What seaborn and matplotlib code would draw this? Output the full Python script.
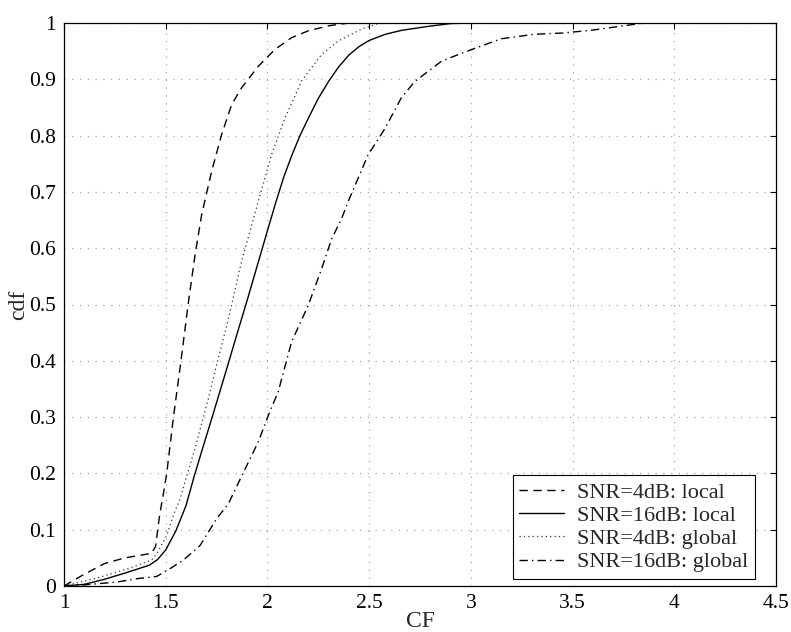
import matplotlib
matplotlib.use("Agg")
import matplotlib.pyplot as plt
import seaborn as sns
import pandas as pd

# CDF of the crest factor (CF) for local / global processing at two SNRs
cf_4db_local = [1.0, 1.1, 1.2, 1.3, 1.43, 1.45, 1.47, 1.49, 1.505, 1.538, 1.575, 1.612,
                1.645, 1.677, 1.726, 1.775, 1.824, 1.873, 1.955, 2.037, 2.119, 2.2,
                2.3, 2.4, 2.5]
cdf_4db_local = [0.0, 0.021, 0.04, 0.05, 0.058, 0.07, 0.126, 0.167, 0.2, 0.3, 0.4, 0.505,
                 0.59, 0.66, 0.737, 0.802, 0.855, 0.885, 0.923, 0.953, 0.974, 0.986,
                 0.995, 1.0, 1.0]

cf_16db_local = [1.0, 1.1, 1.2, 1.3, 1.42, 1.46, 1.5, 1.55, 1.6, 1.64, 1.68, 1.72, 1.76,
                 1.8, 1.85, 1.9, 1.95, 2.0, 2.04, 2.08, 2.12, 2.16, 2.2, 2.25, 2.3,
                 2.35, 2.4, 2.45, 2.5, 2.58, 2.66, 2.79, 2.9, 3.0]
cdf_16db_local = [0.0, 0.003, 0.012, 0.023, 0.037, 0.047, 0.064, 0.098, 0.143, 0.195, 0.243,
                  0.29, 0.338, 0.386, 0.447, 0.507, 0.569, 0.631, 0.68, 0.726, 0.765, 0.8,
                  0.83, 0.866, 0.896, 0.922, 0.943, 0.958, 0.969, 0.98, 0.987, 0.994,
                  0.999, 1.0]

cf_4db_global = [1.0, 1.18, 1.317, 1.43, 1.456, 1.505, 1.538, 1.571, 1.595, 1.644, 1.685,
                 1.71, 1.742, 1.808, 1.873, 1.945, 2.02, 2.086, 2.168, 2.266, 2.348,
                 2.462, 2.55, 2.6]
cdf_4db_global = [0.0, 0.016, 0.031, 0.046, 0.057, 0.09, 0.126, 0.155, 0.185, 0.244, 0.3,
                  0.333, 0.381, 0.474, 0.577, 0.67, 0.766, 0.831, 0.897, 0.944, 0.968,
                  0.989, 1.0, 1.0]

cf_16db_global = [1.0, 1.1, 1.26, 1.358, 1.456, 1.522, 1.587, 1.669, 1.751, 1.808, 1.873,
                  1.955, 2.012, 2.053, 2.119, 2.2, 2.266, 2.315, 2.364, 2.397, 2.495,
                  2.577, 2.658, 2.724, 2.855, 2.953, 3.035, 3.149, 3.313, 3.443, 3.59,
                  3.75, 3.85]
cdf_16db_global = [0.0, 0.002, 0.007, 0.013, 0.017, 0.031, 0.046, 0.072, 0.12, 0.146,
                   0.195, 0.256, 0.31, 0.345, 0.434, 0.498, 0.563, 0.616, 0.652, 0.683,
                   0.766, 0.812, 0.867, 0.896, 0.932, 0.946, 0.957, 0.972, 0.98, 0.982,
                   0.987, 0.995, 1.0]

series_labels = ["SNR=4dB: local", "SNR=16dB: local", "SNR=4dB: global", "SNR=16dB: global"]
x_ticks = [1, 1.5, 2, 2.5, 3, 3.5, 4, 4.5]
x_tick_labels = ["1", "1.5", "2", "2.5", "3", "3.5", "4", "4.5"]
y_ticks = [0, 0.1, 0.2, 0.3, 0.4, 0.5, 0.6, 0.7, 0.8, 0.9, 1.0]
y_tick_labels = ["0", "0.1", "0.2", "0.3", "0.4", "0.5", "0.6", "0.7", "0.8", "0.9", "1"]

sns.set_style("white")
plt.rcParams["font.family"] = ["Liberation Serif", "DejaVu Serif"]

fig = plt.figure(figsize=(7.91, 6.32), dpi=100)
ax = fig.add_axes([64 / 791, 1 - 586 / 632, 712 / 791, 563 / 632])

frames = []
for lab, xs, ys in zip(series_labels,
                       [cf_4db_local, cf_16db_local, cf_4db_global, cf_16db_global],
                       [cdf_4db_local, cdf_16db_local, cdf_4db_global, cdf_16db_global]):
    frames.append(pd.DataFrame({"CF": xs, "cdf": ys, "series": lab}))
df = pd.concat(frames, ignore_index=True)

styles = {
    "SNR=4dB: local": dict(ls=(0, (6, 4)), lw=1.0, color="black"),
    "SNR=16dB: local": dict(ls="-", lw=1.0, color="black"),
    "SNR=4dB: global": dict(ls=(0, (1, 2.5)), lw=0.9, color="#333333"),
    "SNR=16dB: global": dict(ls=(0, (6, 3, 1, 3)), lw=1.0, color="black"),
}

for lab in series_labels:
    st = styles[lab]
    sns.lineplot(data=df[df["series"] == lab], x="CF", y="cdf", ax=ax,
                 estimator=None, sort=False, color=st["color"],
                 linewidth=st["lw"], linestyle=st["ls"], label=lab)

ax.set_xlim(1, 4.5)
ax.set_ylim(0, 1)
ax.set_xticks(x_ticks)
ax.set_xticklabels(x_tick_labels)
ax.set_yticks(y_ticks)
ax.set_yticklabels(y_tick_labels)
ax.grid(True, color="0.6", linestyle=(0, (1, 6)), linewidth=0.8)
ax.tick_params(direction="in", length=4, width=0.8, top=True, right=True,
               labelsize=15.5, pad=6, colors="black")
for sp in ax.spines.values():
    sp.set_visible(True)
    sp.set_color("black")
    sp.set_linewidth(0.9)

ax.set_xlabel("CF", fontsize=17, labelpad=-2)
ax.set_ylabel("cdf", fontsize=17, labelpad=0)

leg = ax.legend(loc="lower right", bbox_to_anchor=((755 - 64) / 712, (586 - 579) / 563),
                borderaxespad=0, fontsize=16, frameon=True, fancybox=False,
                framealpha=1, edgecolor="black", handlelength=2.0,
                handletextpad=0.6, labelspacing=0.12, borderpad=0.3)
leg.get_frame().set_linewidth(0.8)

fig.savefig("out.png", dpi=100)
